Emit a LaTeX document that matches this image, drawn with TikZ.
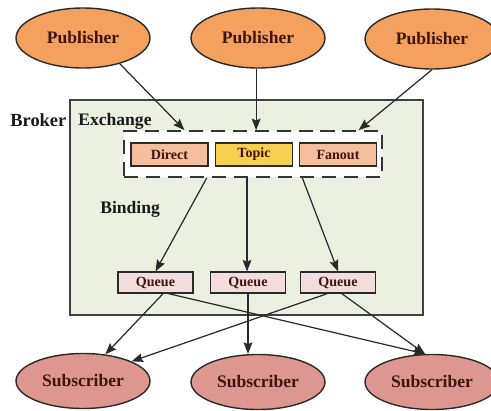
\documentclass[tikz,border=0pt]{standalone}
\usepackage{fontspec}
\setmainfont{Liberation Serif}
\usetikzlibrary{calc,arrows.meta,shapes.geometric}
\definecolor{pubfill}{HTML}{F4A160}
\definecolor{subfill}{HTML}{DD9690}
\definecolor{brokerfill}{HTML}{EBF0E0}
\definecolor{exfill}{HTML}{F5BE9C}
\definecolor{topicfill}{HTML}{F7D050}
\definecolor{queuefill}{HTML}{F3DCDC}
\definecolor{inktext}{HTML}{40150F}
\definecolor{edge}{HTML}{2A2A2A}

\begin{document}
\begin{tikzpicture}[x=0.02cm,y=-0.02cm,
  party/.style={ellipse, draw=edge, line width=0.8pt, minimum width=2.68cm,
    inner sep=0pt, font=\bfseries\fontsize{10}{12}\selectfont, text=inktext},
  pub/.style={party, fill=pubfill, minimum height=1.2cm},
  sub/.style={party, fill=subfill, minimum height=1.1cm},
  exbox/.style={draw=edge, line width=0.7pt, minimum width=1.54cm,
    minimum height=0.46cm, inner sep=0pt,
    font=\bfseries\fontsize{8}{10}\selectfont, text=inktext},
  queuebox/.style={draw=edge, line width=0.7pt, fill=queuefill,
    minimum width=1.5cm, minimum height=0.42cm, inner sep=0pt,
    font=\bfseries\fontsize{8}{10}\selectfont, text=inktext},
  tag/.style={font=\bfseries\fontsize{10}{12}\selectfont, inner sep=0pt,
    anchor=base west, text=black!90},
  link/.style={draw=edge, line width=0.7pt,
    -{Stealth[length=6.5pt,width=5pt,inset=1pt]}}
]
\useasboundingbox (0,0) rectangle (491,410);

% broker area
\node[draw=black!75, line width=0.7pt, fill=brokerfill,
  minimum width=7.06cm, minimum height=4.3cm, inner sep=0pt]
  (broker) at (246.5,207.5) {};
\node[tag, font=\bfseries\fontsize{10.5}{12}\selectfont] (brokertag) at (10,126) {Broker};
\node[tag] (exchangetag) at (78,125) {Exchange};
\node[tag] (bindingtag) at (100,213) {Binding};

% exchange group
\node[draw=black!80, line width=1pt, fill=white,
  dash pattern=on 8pt off 4.5pt, minimum width=5.16cm,
  minimum height=0.92cm, inner sep=0pt] (ex) at (253,154) {};
\node[exbox, fill=exfill] (direct) at (169.5,154.5) {Direct};
\node[exbox, fill=topicfill] (topic) at (254,154.5) {Topic};
\node[exbox, fill=exfill] (fanout) at (338,154.5) {Fanout};

% queues
\node[queuebox] (q1) at (155.5,282.5) {Queue};
\node[queuebox] (q2) at (248,282.5) {Queue};
\node[queuebox] (q3) at (338,282.5) {Queue};

% publishers and subscribers
\node[pub] (p1) at (83,38) {Publisher};
\node[pub] (p2) at (258,38) {Publisher};
\node[pub] (p3) at (432,39) {Publisher};
\node[sub] (s1) at (83,381) {Subscriber};
\node[sub] (s2) at (258,382) {Subscriber};
\node[sub] (s3) at (432,382) {Subscriber};

% attachment points on the exchange group
\coordinate (in1) at ($(ex.north west)!0.236!(ex.north east)$);
\coordinate (in2) at ($(ex.north west)!0.512!(ex.north east)$);
\coordinate (in3) at ($(ex.north west)!0.907!(ex.north east)$);
\coordinate (out1) at ($(ex.south west)!0.322!(ex.south east)$);
\coordinate (out2) at ($(ex.south west)!0.477!(ex.south east)$);
\coordinate (out3) at ($(ex.south west)!0.69!(ex.south east)$);

% publishing
\draw[link] (p1.-35) -- (in1);
\draw[link] (in2 |- p2.south) -- (in2);
\draw[link] (p3.south) -- (in3);

% bindings
\draw[link] (out1) -- (q1.north);
\draw[link] (out2) -- (out2 |- q2.north);
\draw[link] (out3) -- (q3.north);

% delivery
\draw[link] ($(q1.south west)!0.6!(q1.south east)$) -- (s1.50);
\draw[link] ($(q1.south west)!0.67!(q1.south east)$) -- (s3.104);
\draw[link] (q2.south) -- (q2.south |- s2.north);
\draw[link] ($(q3.south west)!0.36!(q3.south east)$) -- (s1.22);
\draw[link] ($(q3.south west)!0.55!(q3.south east)$) -- (s3.104);
\end{tikzpicture}
\end{document}
